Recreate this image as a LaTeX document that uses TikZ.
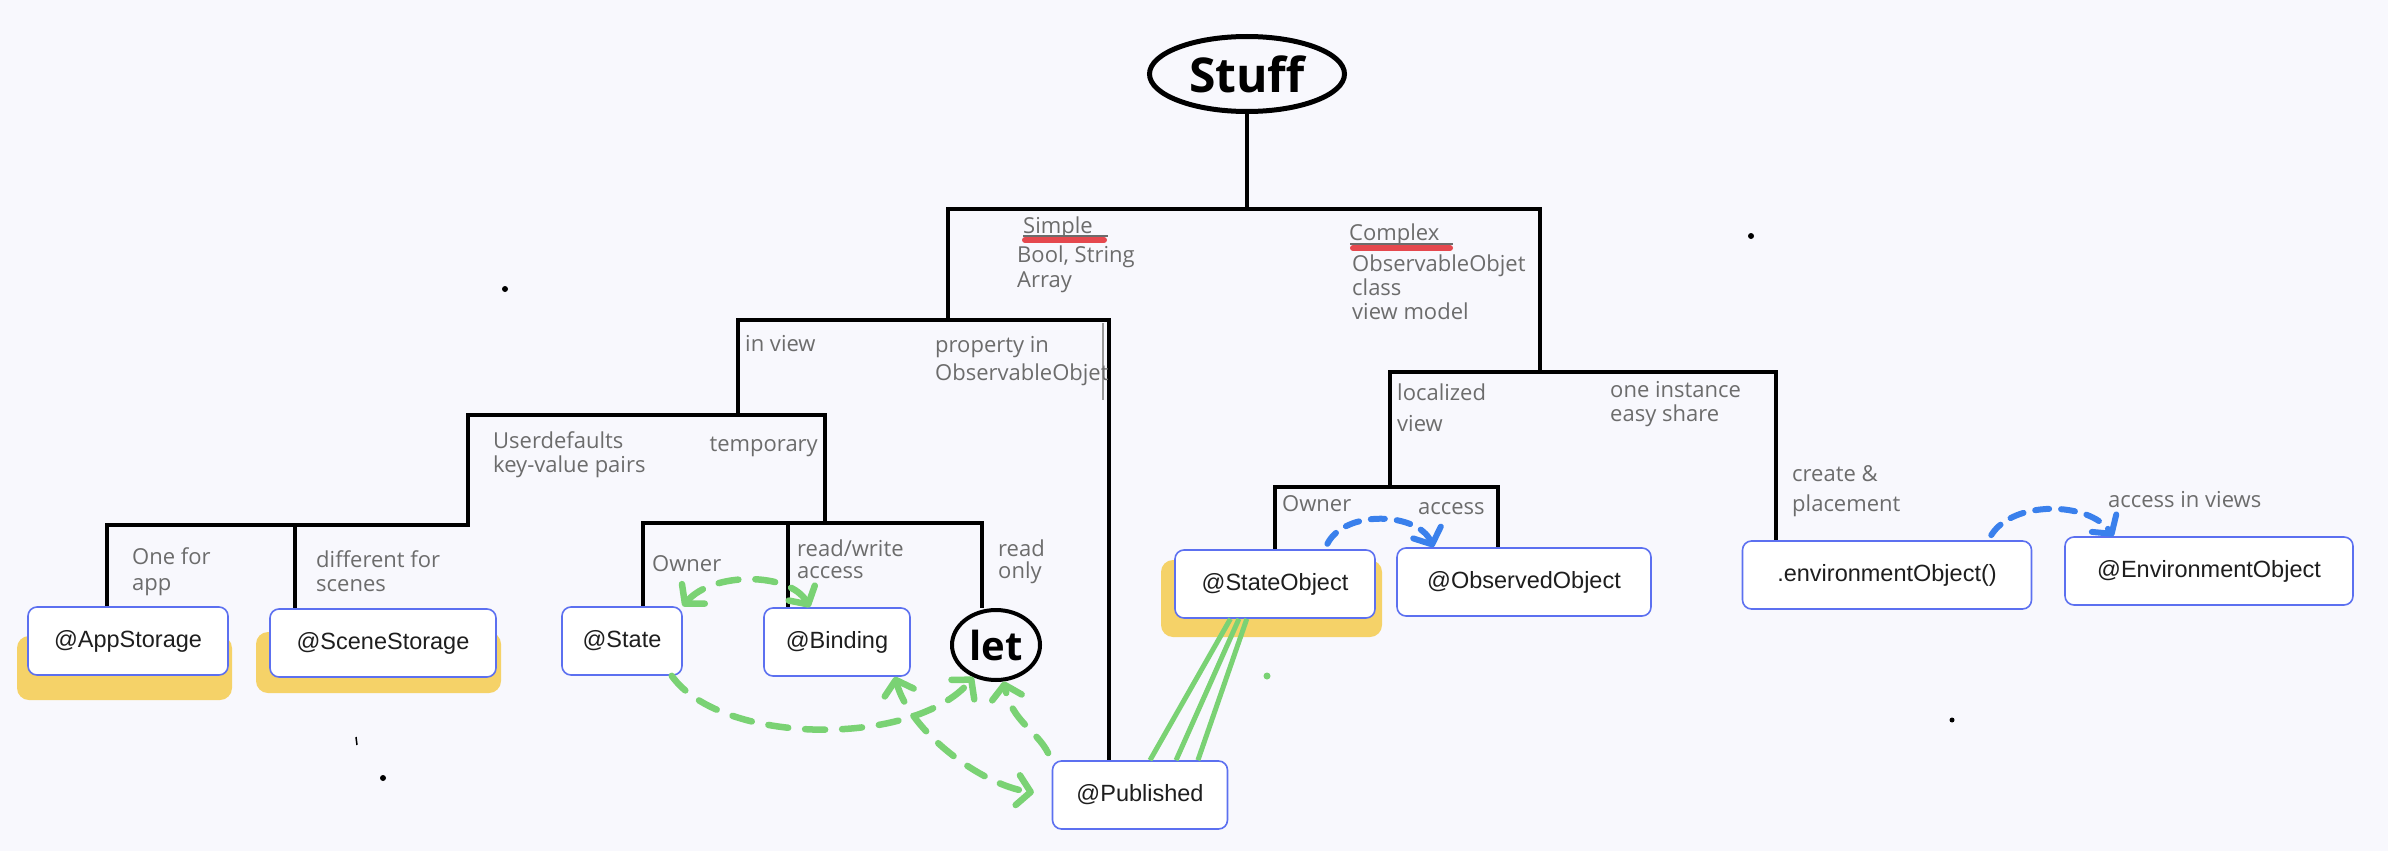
\documentclass[tikz,border=0pt]{standalone}
\usepackage{fontspec}
\usetikzlibrary{arrows.meta,shapes.geometric}
\newfontfamily\handfont{Open Sans}
\newfontfamily\boxfont{Liberation Sans}
\definecolor{paper}{RGB}{248,248,253}
\definecolor{boxblue}{RGB}{92,112,240}
\definecolor{ink}{RGB}{30,30,30}
\definecolor{pencil}{RGB}{108,108,108}
\definecolor{marker}{RGB}{245,206,88}
\definecolor{leaf}{RGB}{122,210,116}
\definecolor{sky}{RGB}{58,128,236}
\definecolor{redpen}{RGB}{229,72,78}

\begin{document}
\begin{tikzpicture}[x=1pt,y=-1pt,
  >={Straight Barb[round,length=13pt,width=30pt]},
  tree/.style={line width=4.5pt},
  box/.style={draw=boxblue, line width=1.6pt, fill=white, rounded corners=9pt,
    inner sep=0pt, minimum height=68pt, text=ink,
    font={\boxfont\fontsize{23.5}{28}\selectfont}},
  note/.style={inner sep=0pt, anchor=base west, align=left, text=pencil,
    font={\handfont\fontsize{22}{#1}\selectfont}},
  note/.default=25,
  hl/.style={fill=marker, opacity=0.9, rounded corners=12pt},
  green dash/.style={draw=leaf, line width=6.5pt, line cap=round,
    dash pattern=on 20pt off 17pt},
  blue dash/.style={draw=sky, line width=6pt, line cap=round,
    dash pattern=on 14pt off 12pt}]
  \useasboundingbox (0,0) rectangle (2388,851);
  \fill[paper] (0,0) rectangle (2388,851);

  % marker strokes under the boxes
  \fill[hl] (17,636) rectangle (232,700);
  \fill[hl] (256,632) rectangle (501,693);
  \fill[hl] (1161,560) rectangle (1382,637);

  % the nodes
  \node[ellipse, draw, line width=5pt, minimum width=195pt, minimum height=75pt,
    inner sep=0pt, font={\handfont\bfseries\fontsize{48}{50}\selectfont}]
    (stuff) at (1247,74) {Stuff};

  \node[box, minimum width=200pt] (app) at (128,641) {@AppStorage};
  \node[box, minimum width=226pt] (scene) at (383,643) {@SceneStorage};
  \node[box, minimum width=120pt] (state) at (622,641) {@State};
  \node[box, minimum width=146pt] (binding) at (837,642) {@Binding};
  \node[ellipse, draw, line width=4pt, minimum width=88pt, minimum height=70pt,
    inner sep=0pt, font={\handfont\bfseries\fontsize{40}{40}\selectfont}]
    (let) at (996,645) {let};
  \node[box, minimum width=175pt] (published) at (1140,795) {@Published};
  \node[box, minimum width=200pt] (stateobj) at (1275,584) {@StateObject};
  \node[box, minimum width=254pt] (observed) at (1524,582) {@ObservedObject};
  \node[box, minimum width=289pt] (envmod) at (1887,575) {.environmentObject()};
  \node[box, minimum width=288pt] (envobj) at (2209,571) {@EnvironmentObject};

  % bar junctions
  \coordinate (j1L) at (948,209);  \coordinate (j1R) at (1540,209);
  \coordinate (j2L) at (738,320);  \coordinate (j2R) at (1109,320);
  \coordinate (j3L) at (468,415);  \coordinate (j3R) at (825,415);
  \coordinate (j4a) at (107,525);  \coordinate (j4b) at (295,525);
  \coordinate (j5L) at (643,523);  \coordinate (j5M) at (788,523);
  \coordinate (j5R) at (982,523);
  \coordinate (jcL) at (1390,372); \coordinate (jcR) at (1776,372);
  \coordinate (jdL) at (1275,487); \coordinate (jdR) at (1498,487);

  % tree
  \draw[tree] (stuff.south) -- (stuff.south |- j1L);
  \draw[tree] (j1L |- j2L) -- (j1L) -- (j1R) -- (j1R |- jcL);
  \draw[tree] (j2L |- j3L) -- (j2L) -- (j2R) -- (j2R |- published.north);
  \draw[pencil!70, line width=1.2pt] (1103,323) -- (1103,400);
  \draw[tree] (j4a |- app.north) -- (j4a) -- (j3L |- j4a) -- (j3L) -- (j3R)
    -- (j3R |- j5L);
  \draw[tree] (j4b) -- (j4b |- scene.north);
  \draw[tree] (j5L |- state.north) -- (j5L) -- (j5R) -- (let.north -| j5R);
  \draw[tree] (j5M) -- (j5M |- binding.north);
  \draw[tree] (jcL |- jdL) -- (jcL) -- (jcR) -- (jcR |- envmod.north);
  \draw[tree] (jdL |- stateobj.north) -- (jdL) -- (jdR) -- (jdR |- observed.north);

  % notes (base = last line)
  \node[note] (simple) at (1023,233) {Simple};
  \draw[redpen, line width=6pt, line cap=round] (1025,240) -- (1104,240);
  \draw[pencil, line width=1.5pt] (1023,236) -- (1108,236);
  \node[note] (simpletypes) at (1017,287) {Bool, String\\Array};
  \node[note] (complex) at (1349,240) {Complex};
  \draw[redpen, line width=6pt, line cap=round] (1353,248) -- (1450,248);
  \draw[pencil, line width=1.5pt] (1350,244) -- (1453,244);
  \node[note=24] (complextypes) at (1352,319) {ObservableObjet\\class\\view model};
  \node[note] (inview) at (745,351) {in view};
  \node[note=28] (property) at (935,380) {property in\\ObservableObjet};
  \node[note=24] (userdef) at (493,472) {Userdefaults\\key-value pairs};
  \node[note, anchor=base east] (temporary) at (818,451) {temporary};
  \node[note=26] (onefor) at (132,590) {One for\\app};
  \node[note=24] (different) at (316,591) {different for\\scenes};
  \node[note] (owner) at (652,571) {Owner};
  \node[note=22] (readwrite) at (797,578) {read/write\\access};
  \node[note=22] (readonly) at (998,578) {read\\only};
  \node[note=31] (localized) at (1397,431) {localized\\view};
  \node[note=24] (oneinst) at (1610,421) {one instance\\easy share};
  \node[note] (ownerb) at (1282,511) {Owner};
  \node[note] (access) at (1418,514) {access};
  \node[note=30] (create) at (1792,511) {create \&\\placement};
  \node[note] (accessviews) at (2108,507) {access in views};

  % green arrows
  \draw[green dash, <->] (state.north east) .. controls +(30,-35) and +(-20,-35) .. (binding.128);
  \draw[green dash, ->] (state.-35) .. controls +(50,70) and +(-60,70) .. (let.-125);
  \draw[green dash, <->, shorten >=18pt] (binding.-31) .. controls +(15,55) and +(-70,-10) .. (published.west);
  \draw[green dash, ->, shorten <=8pt] (published.north west) .. controls +(-15,-30) and +(8,40) .. (let.-78);
  \draw[leaf, line width=5pt] (stateobj.-142) -- (published.74);
  \draw[leaf, line width=5pt] (stateobj.-136) -- (published.44);
  \draw[leaf, line width=5pt] (stateobj.-129) -- (published.31);
  \fill[leaf] (1267,676) circle (3.5pt);

  % blue arrows
  \draw[blue dash, ->, shorten <=6pt] (stateobj.35) .. controls +(20,-40) and +(-15,-35) .. (observed.159);
  \draw[blue dash, ->, shorten <=6pt] (envmod.19) .. controls +(25,-40) and +(-25,-35) .. (envobj.160);

  % stray dots
  \fill (505,289) circle (3pt);
  \fill (383,778) circle (3pt);
  \fill (1751,236) circle (3pt);
  \fill (1952,720) circle (2.5pt);
  \draw[line width=1.5pt] (356,737) -- (357,745);
\end{tikzpicture}
\end{document}
